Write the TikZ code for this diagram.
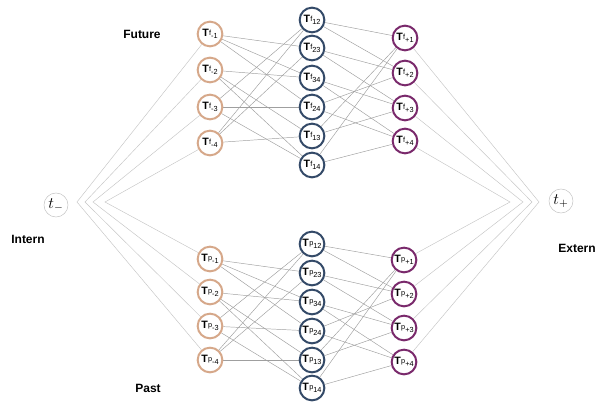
\documentclass[tikz,border=0pt]{standalone}
\usepackage[no-math]{fontspec}
\usetikzlibrary{backgrounds}
\newfontfamily\hv{Liberation Sans}
\definecolor{ctan}{RGB}{214,168,138}
\definecolor{cnavy}{RGB}{52,74,104}
\definecolor{cplum}{RGB}{122,42,108}
\begin{document}
\begin{tikzpicture}[x=0.75pt,y=-0.75pt,
  tn/.style={circle, inner sep=0pt, minimum size=18.5pt, fill=white, line width=1.5pt,
    font=\hv\fontsize{8}{9}\selectfont},
  lnode/.style={tn, draw=ctan},
  mnode/.style={tn, draw=cnavy},
  rnode/.style={tn, draw=cplum},
  tnode/.style={circle, inner sep=0pt, minimum size=18pt, draw=gray!45, line width=0.4pt, fill=white, font=\large},
  edge/.style={draw=gray!75, line width=0.35pt},
  vedge/.style={draw=gray!45, line width=0.35pt},
  lab/.style={font=\hv\bfseries\fontsize{9}{10}\selectfont}
]
\useasboundingbox (0,0) rectangle (596,403);
\newcommand{\lbl}[2]{\textbf{T}\kern0.2pt\raisebox{1.1pt}{\fontsize{5.5}{6}\selectfont #1}\raisebox{-1.2pt}{\fontsize{5.5}{6}\selectfont #2}}
% left column
\node[lnode] (fL1) at (210,34) {\lbl{f}{-1}};
\node[lnode] (fL2) at (210,70) {\lbl{f}{-2}};
\node[lnode] (fL3) at (210,107) {\lbl{f}{-3}};
\node[lnode] (fL4) at (210,143) {\lbl{f}{-4}};
\node[lnode] (pL1) at (210,259) {\lbl{p}{-1}};
\node[lnode] (pL2) at (210,292) {\lbl{p}{-2}};
\node[lnode] (pL3) at (210,326) {\lbl{p}{-3}};
\node[lnode] (pL4) at (210,360) {\lbl{p}{-4}};
% middle column
\node[mnode] (fM12) at (312,20) {\lbl{f}{12}};
\node[mnode] (fM23) at (312,48) {\lbl{f}{23}};
\node[mnode] (fM34) at (312,78) {\lbl{f}{34}};
\node[mnode] (fM24) at (312,107) {\lbl{f}{24}};
\node[mnode] (fM13) at (312,136) {\lbl{f}{13}};
\node[mnode] (fM14) at (312,165) {\lbl{f}{14}};
\node[mnode] (pM12) at (312,244) {\lbl{p}{12}};
\node[mnode] (pM23) at (312,273) {\lbl{p}{23}};
\node[mnode] (pM34) at (312,302) {\lbl{p}{34}};
\node[mnode] (pM24) at (312,331) {\lbl{p}{24}};
\node[mnode] (pM13) at (312,360) {\lbl{p}{13}};
\node[mnode] (pM14) at (312,388) {\lbl{p}{14}};
% right column
\node[rnode] (fR1) at (405,38) {\lbl{f}{+1}};
\node[rnode] (fR2) at (405,73) {\lbl{f}{+2}};
\node[rnode] (fR3) at (405,108) {\lbl{f}{+3}};
\node[rnode] (fR4) at (405,141) {\lbl{f}{+4}};
\node[rnode] (pR1) at (404,260) {\lbl{p}{+1}};
\node[rnode] (pR2) at (404,294) {\lbl{p}{+2}};
\node[rnode] (pR3) at (404,328) {\lbl{p}{+3}};
\node[rnode] (pR4) at (404,362) {\lbl{p}{+4}};
% t nodes
\node[tnode] (tm) at (56,205) {$t_-$};
\node[tnode] (tp) at (561,201) {$t_+$};
% V vertices
\coordinate (vl1) at (77,202);
\coordinate (vl2) at (85,202);
\coordinate (vl3) at (93,202);
\coordinate (vl4) at (105,202);
\coordinate (vr1) at (539,202);
\coordinate (vr2) at (532,202);
\coordinate (vr3) at (523,202);
\coordinate (vr4) at (510,202);
% labels
\node[lab] (future) at (142,34) {Future};
\node[lab] (past) at (148,388) {Past};
\node[lab] (intern) at (28,239) {Intern};
\node[lab] (extern) at (577,248) {Extern};
% edges
\begin{scope}[on background layer]
\foreach \h in {f,p}{
  \foreach \a/\b in {L1/M23,L1/M34,L1/M24,L2/M34,L2/M13,L2/M14,L3/M12,L3/M24,L3/M14,L4/M12,L4/M23,L4/M13,
                     M12/R1,M12/R2,M23/R2,M23/R3,M34/R3,M34/R4,M24/R2,M24/R4,M13/R1,M13/R3,M14/R1,M14/R4}{
    \draw[edge] (\h\a) -- (\h\b);
  }
}
\foreach \i/\j in {1/4,2/3,3/2,4/1}{
  \draw[vedge] (fL\i) -- (vl\i) -- (pL\j);
  \draw[vedge] (fR\i) -- (vr\i) -- (pR\j);
}
\end{scope}
\end{tikzpicture}
\end{document}
